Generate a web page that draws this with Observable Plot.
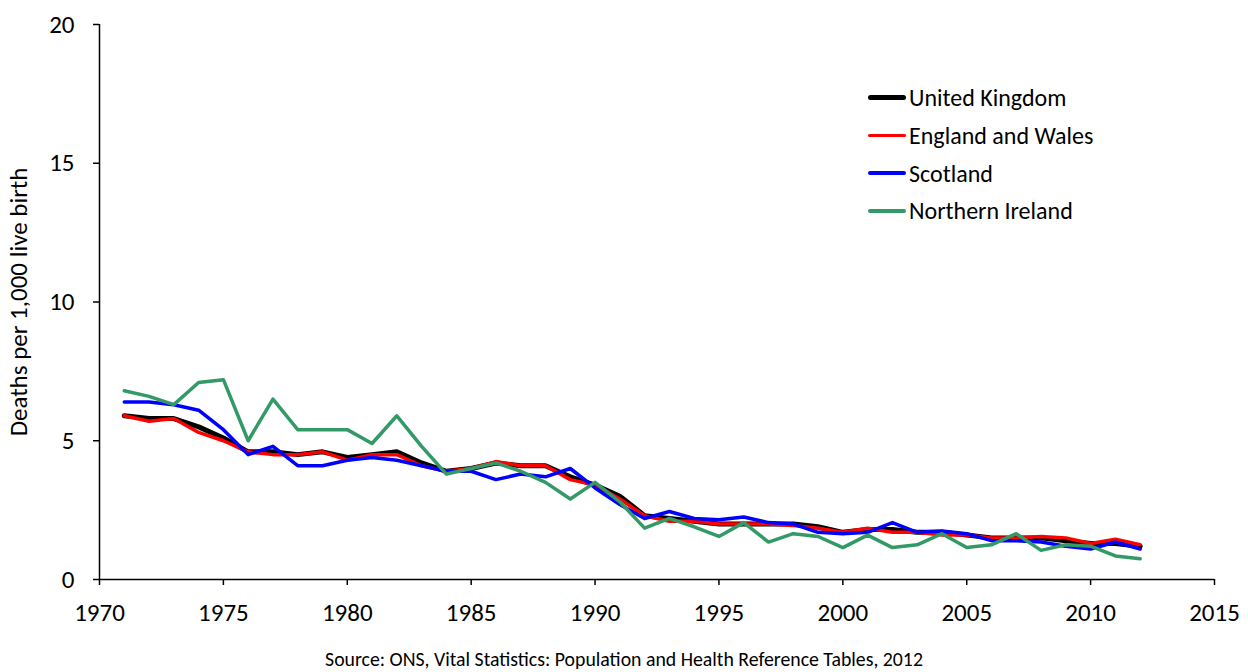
<!DOCTYPE html>
<html>
<head>
<meta charset="utf-8">
<script src="https://cdn.jsdelivr.net/npm/d3@7"></script>
<script src="https://cdn.jsdelivr.net/npm/@observablehq/plot@0.6"></script>
<style>
  html, body { margin: 0; padding: 0; background: #fff; }
  body { width: 1248px; height: 672px; position: relative; overflow: hidden; font-family: Calibri, Carlito, Lato, sans-serif; }
  #chart { position: absolute; left: 0; top: 0; }
  #legend { position: absolute; left: 868px; top: 79px; font-size: 24px; color: #000; }
  #legend .row { display: flex; align-items: center; height: 37.7px; }
  #legend .sw { width: 38px; margin-right: 3px; border-radius: 3px; }
  #caption { position: absolute; left: 0; width: 1248px; top: 647px; text-align: center; font-size: 19.8px; color: #000; }
</style>
</head>
<body>
<div id="chart"></div>
<div id="legend"></div>
<div id="caption">Source: ONS, Vital Statistics: Population and Health Reference Tables, 2012</div>
<script>
const years = d3.range(1971, 2013);
const seriesNames = ["United Kingdom", "England and Wales", "Scotland", "Northern Ireland"];
const seriesColors = ["#000000", "#ff0000", "#0000ff", "#339966"];
const seriesWidths = [5, 3.5, 3.5, 3.5];

const unitedKingdom = [5.9, 5.8, 5.8, 5.5, 5.1, 4.6, 4.6, 4.5, 4.6, 4.4, 4.5, 4.6, 4.2, 3.9, 4.0, 4.2, 4.1, 4.1, 3.7, 3.4, 3.0, 2.3, 2.2, 2.1, 2.0, 2.0, 2.0, 2.0, 1.9, 1.7, 1.8, 1.8, 1.7, 1.7, 1.6, 1.5, 1.5, 1.5, 1.4, 1.3, 1.3, 1.2];
const englandWales = [5.9, 5.7, 5.8, 5.3, 5.0, 4.6, 4.5, 4.5, 4.6, 4.3, 4.5, 4.5, 4.1, 3.9, 4.0, 4.25, 4.1, 4.1, 3.6, 3.4, 2.9, 2.3, 2.1, 2.1, 2.0, 2.0, 2.0, 1.95, 1.85, 1.7, 1.85, 1.7, 1.7, 1.6, 1.6, 1.5, 1.5, 1.55, 1.5, 1.3, 1.45, 1.25];
const scotland = [6.4, 6.4, 6.3, 6.1, 5.4, 4.5, 4.8, 4.1, 4.1, 4.3, 4.4, 4.3, 4.1, 3.9, 3.9, 3.6, 3.8, 3.7, 4.0, 3.3, 2.7, 2.2, 2.45, 2.2, 2.15, 2.25, 2.05, 2.0, 1.7, 1.65, 1.7, 2.05, 1.7, 1.75, 1.65, 1.4, 1.4, 1.35, 1.2, 1.1, 1.35, 1.1];
const northernIreland = [6.8, 6.6, 6.3, 7.1, 7.2, 5.0, 6.5, 5.4, 5.4, 5.4, 4.9, 5.9, 4.8, 3.8, 4.0, 4.2, 3.9, 3.5, 2.9, 3.5, 2.8, 1.85, 2.2, 1.9, 1.55, 2.05, 1.35, 1.65, 1.55, 1.15, 1.6, 1.15, 1.25, 1.65, 1.15, 1.25, 1.65, 1.05, 1.25, 1.2, 0.85, 0.75];

const xTicks = [1970, 1975, 1980, 1985, 1990, 1995, 2000, 2005, 2010, 2015];
const yTicks = [0, 5, 10, 15, 20];
const yLabel = "Deaths per 1,000 live birth";

const allValues = [unitedKingdom, englandWales, scotland, northernIreland];
const data = [];
seriesNames.forEach((name, i) => {
  years.forEach((yr, j) => data.push({series: name, year: yr, value: allValues[i][j]}));
});

const font = "Calibri, Carlito, Lato, sans-serif";

const plot = Plot.plot({
  width: 1248,
  height: 636,
  marginLeft: 99,
  marginRight: 34,
  marginTop: 24,
  marginBottom: 57,
  style: {fontFamily: font, color: "#000", background: "#fff", overflow: "visible"},
  x: {domain: [1970, 2015]},
  y: {domain: [0, 20]},
  marks: [
    Plot.axisX({ticks: xTicks, tickFormat: () => "", tickSize: 6, label: null, strokeWidth: 1.5}),
    Plot.axisY({ticks: yTicks, tickFormat: () => "", tickSize: 6, label: null, strokeWidth: 1.5}),
    Plot.text(xTicks, {x: d => d, text: d => String(d), frameAnchor: "bottom", lineAnchor: "top", dy: 24, fontSize: 25, fill: "#000"}),
    Plot.text(yTicks, {y: d => d, text: d => String(d), frameAnchor: "left", textAnchor: "end", dx: -25, fontSize: 25, fill: "#000"}),
    Plot.axisY({ticks: [], tickSize: 0, fontSize: 25, label: yLabel, labelAnchor: "center", labelArrow: "none", labelOffset: 90}),
    Plot.ruleX([1970], {stroke: "#000", strokeWidth: 1.5}),
    Plot.ruleY([0], {stroke: "#000", strokeWidth: 1.5}),
    ...seriesNames.map((name, i) => Plot.line(data.filter(d => d.series === name), {
      x: "year", y: "value", stroke: seriesColors[i], strokeWidth: seriesWidths[i], strokeLinejoin: "round"
    }))
  ]
});
document.getElementById("chart").appendChild(plot);

const legend = document.getElementById("legend");
seriesNames.forEach((name, i) => {
  const row = document.createElement("div");
  row.className = "row";
  const sw = document.createElement("div");
  sw.className = "sw";
  sw.style.height = (i === 0 ? 5 : 3.5) + "px";
  sw.style.background = seriesColors[i];
  const label = document.createElement("span");
  label.textContent = name;
  row.appendChild(sw);
  row.appendChild(label);
  legend.appendChild(row);
});
</script>
</body>
</html>
